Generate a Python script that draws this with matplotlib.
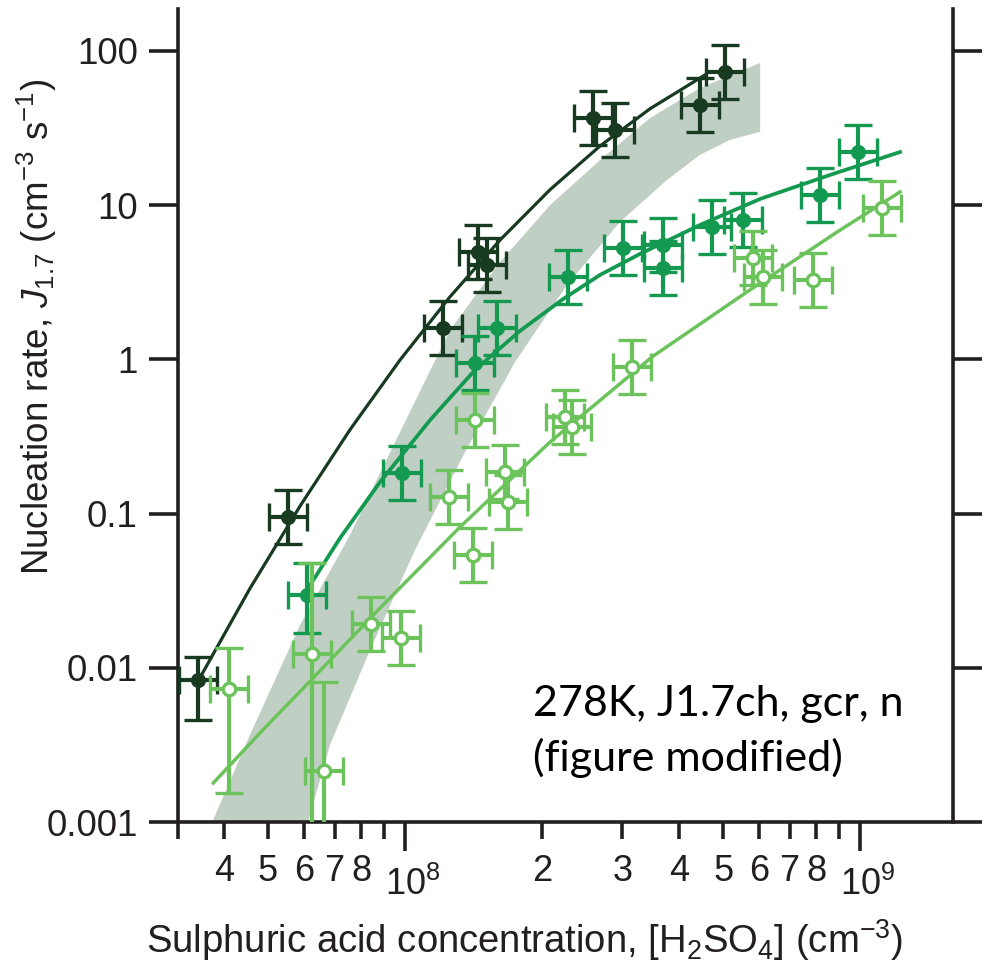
import numpy as np
import matplotlib.pyplot as plt
from matplotlib.ticker import FixedLocator, FixedFormatter, NullLocator
from matplotlib.transforms import ScaledTranslation

plt.rcParams['font.family'] = ['Liberation Sans', 'DejaVu Sans']
plt.rcParams['mathtext.fontset'] = 'custom'
plt.rcParams['mathtext.rm'] = 'Liberation Sans'
plt.rcParams['mathtext.it'] = 'Liberation Sans:italic'
plt.rcParams['mathtext.bf'] = 'Liberation Sans:bold'

# --- data ---
# dark series (filled, darkest green)
dark_x = [3.51e7, 5.53e7, 1.212e8, 1.447e8, 1.514e8, 2.589e8, 2.894e8, 4.45e8, 5.05e8]
dark_j = [0.00833, 0.0951, 1.60, 4.97, 4.09, 36.8, 30.8, 44.7, 73.1]
dark_jlo = [1.82, 1.5, 1.5, 1.5, 1.5, 1.5, 1.5, 1.5, 1.5]   # lower error factor
dark_jhi = [1.41, 1.5, 1.5, 1.5, 1.5, 1.5, 1.5, 1.5, 1.5]   # upper error factor

# medium series (filled, green)
med_x = [6.09e7, 9.85e7, 1.425e8, 1.593e8, 2.282e8, 3.014e8, 3.69e8, 3.69e8,
         4.728e8, 5.533e8, 8.168e8, 9.899e8]
med_j = [0.0297, 0.183, 0.948, 1.60, 3.42, 5.27, 5.52, 3.92, 7.21, 8.01, 11.6, 22.1]
med_jlo = [1.76] + [1.5] * 11
med_jhi = [1.61] + [1.5] * 11

# light series (open, light green)
light_x = [4.10e7, 6.25e7, 6.64e7, 8.42e7, 9.80e7, 1.249e8, 1.411e8, 1.425e8,
           1.659e8, 1.684e8, 2.247e8, 2.328e8, 3.155e8, 5.82e8, 6.122e8, 7.883e8, 1.118e9]
light_j = [0.00729, 0.0123, 0.00214, 0.0192, 0.0156, 0.128, 0.0539, 0.404,
           0.186, 0.119, 0.423, 0.364, 0.893, 4.55, 3.42, 3.27, 9.59]
light_jlo = [4.7, 100, 100] + [1.5] * 14
light_jhi = [1.85, 3.9, 3.8] + [1.5] * 14

x_err_fac = 1.1

# fitted curves
dark_fit_x = [3.54e7, 4.56e7, 5.88e7, 7.57e7, 9.75e7, 1.256e8, 1.618e8, 2.083e8,
              2.683e8, 3.455e8, 4.564e8]
dark_fit_j = [0.00859, 0.0326, 0.112, 0.350, 0.991, 2.55, 5.95, 12.6, 24.2, 42.2, 69.9]
med_fit_x = [6.09e7, 7.20e7, 8.81e7, 1.135e8, 1.425e8, 1.789e8, 2.225e8, 2.683e8,
             3.285e8, 4.45e8, 6.03e8, 8.59e8, 1.224e9]
med_fit_j = [0.0320, 0.0695, 0.160, 0.404, 0.854, 1.53, 2.46, 3.53, 4.83, 7.44,
             10.97, 15.7, 22.1]
light_fit_x = [3.79e7, 4.80e7, 6.25e7, 8.81e7, 1.321e8, 2.083e8, 3.509e8, 5.646e8,
               8.903e8, 1.224e9]
light_fit_j = [0.00179, 0.00378, 0.00846, 0.0244, 0.0819, 0.291, 1.05, 2.74, 6.70, 12.18]

# grey model band
band_up_x = [3.77e7, 4.56e7, 5.88e7, 7.57e7, 9.75e7, 1.256e8, 1.618e8, 2.083e8,
             2.683e8, 3.455e8, 4.45e8, 6.03e8]
band_up_j = [0.001, 0.00366, 0.01896, 0.0727, 0.338, 1.55, 4.28, 10.0, 19.6, 36.7, 57.5, 83.6]
band_lo_x = [6.12e7, 6.84e7, 8.38e7, 1.052e8, 1.355e8, 1.745e8, 2.27e8, 2.968e8,
             3.766e8, 4.45e8, 5.179e8, 6.03e8]
band_lo_j = [0.001, 0.00316, 0.01305, 0.0581, 0.251, 0.962, 3.04, 7.78, 14.6, 21.2, 26.5, 29.9]

c_dark = '#183a20'
c_med = '#139a50'
c_light = '#6cc35c'
c_band = '#c0cfc3'
c_axis = '#231f20'


def draw_points(ax, x, j, jlo, jhi, color, face, ms, z):
    x = np.array(x)
    j = np.array(j)
    xerr = [x - x / x_err_fac, x * x_err_fac - x]
    yerr = [j - j / np.array(jlo), j * np.array(jhi) - j]
    ax.errorbar(x, j, xerr=xerr, yerr=yerr, fmt='o', ms=ms, mfc=face, mec=color,
                mew=2.4, ecolor=color, elinewidth=3.0, capsize=10, capthick=3.3,
                zorder=z)


fig = plt.figure(figsize=(9.86, 9.68), dpi=100)
ax = fig.add_axes([178 / 986, 1 - 822 / 968, (953 - 178) / 986, (822 - 9) / 968])
ax.set_xscale('log')
ax.set_yscale('log')
ax.set_xlim(3.17e7, 1.6e9)
ax.set_ylim(1e-3, 187)

ax.fill(band_up_x + band_lo_x[::-1], band_up_j + band_lo_j[::-1],
        color=c_band, lw=0, zorder=1)

ax.plot(light_fit_x, light_fit_j, color=c_light, lw=2.5, zorder=2)
ax.plot(med_fit_x, med_fit_j, color=c_med, lw=2.7, zorder=2)
ax.plot(dark_fit_x, dark_fit_j, color=c_dark, lw=2.3, zorder=2)

draw_points(ax, dark_x, dark_j, dark_jlo, dark_jhi, c_dark, c_dark, 8.5, 3)
draw_points(ax, med_x, med_j, med_jlo, med_jhi, c_med, c_med, 8.5, 4)
draw_points(ax, light_x, light_j, light_jlo, light_jhi, c_light, 'white', 9, 5)

# axes styling
ax.spines['top'].set_visible(False)
for s in ['left', 'right', 'bottom']:
    ax.spines[s].set_linewidth(2.6)
    ax.spines[s].set_color(c_axis)

ax.xaxis.set_major_locator(FixedLocator([1e8, 1e9]))
ax.xaxis.set_major_formatter(FixedFormatter(['$10^8$', '$10^9$']))
minor_x = [3.17e7, 4e7, 5e7, 6e7, 7e7, 8e7, 9e7, 2e8, 3e8, 4e8, 5e8, 6e8, 7e8, 8e8, 9e8]
minor_lab = ['', '4', '5', '6', '7', '8', '', '2', '3', '4', '5', '6', '7', '8', '']
ax.xaxis.set_minor_locator(FixedLocator(minor_x))
ax.xaxis.set_minor_formatter(FixedFormatter(minor_lab))

y_ticks = [1e-3, 1e-2, 1e-1, 1, 10, 100]
y_labels = ['0.001', '0.01', '0.1', '1', '10', '100']
ax.yaxis.set_major_locator(FixedLocator(y_ticks))
ax.yaxis.set_major_formatter(FixedFormatter(y_labels))
ax.yaxis.set_minor_locator(NullLocator())

ax.tick_params(axis='x', which='major', direction='out', length=21, width=2.6,
               color=c_axis, labelcolor=c_axis, labelsize=26, pad=11)
ax.tick_params(axis='x', which='minor', direction='out', length=12, width=2.6,
               color=c_axis, labelcolor=c_axis, labelsize=26, pad=11)
ax.tick_params(axis='y', which='major', direction='out', length=21, width=2.6,
               left=True, right=True, labelleft=True, labelright=False,
               color=c_axis, labelcolor=c_axis, labelsize=26.5, pad=8)

shift = ScaledTranslation(8 / 100, 0, fig.dpi_scale_trans)
for lbl in ax.get_xticklabels(which='major'):
    lbl.set_transform(lbl.get_transform() + shift)

fig.text(37 / 986, 1 - 327 / 968,
         'Nucleation rate, $J_{1.7}$ (cm$^{-3}$ s$^{-1}$)',
         rotation=90, ha='center', va='center', fontsize=26.5, color=c_axis)
fig.text(525 / 986, 1 - 940 / 968,
         'Sulphuric acid concentration, [H$_2$SO$_4$] (cm$^{-3}$)',
         ha='center', va='center', fontsize=27.5, color=c_axis)

fig.text(533 / 986, 1 - 685 / 968, '278K, J1.7ch, gcr, n\n(figure modified)',
         family=['Lato', 'DejaVu Sans'], fontsize=31, ha='left', va='top',
         color='black', linespacing=1.45)

fig.savefig('out.png', dpi=100)
